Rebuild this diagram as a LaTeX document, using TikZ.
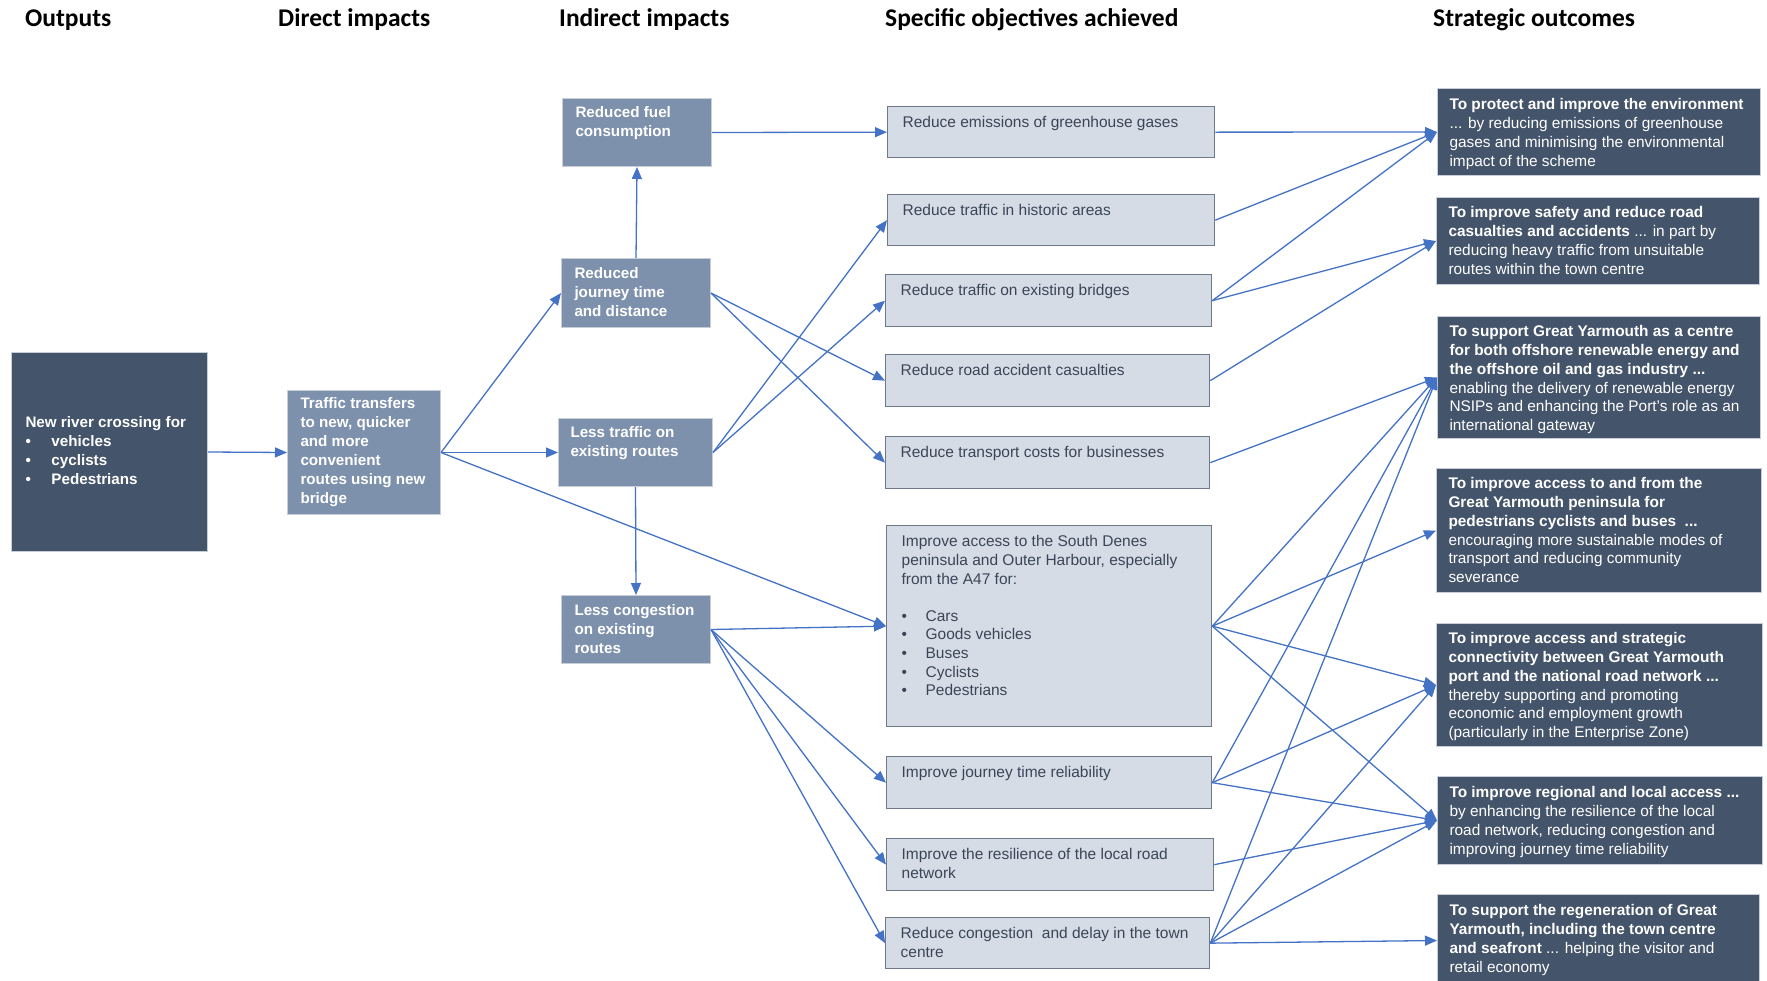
\documentclass[tikz,border=0pt]{standalone}
\usepackage{fontspec}
\setmainfont{Liberation Sans}
\newfontfamily\hdrfont{Carlito}
\usetikzlibrary{arrows.meta}
\definecolor{dfill}{HTML}{44546A}
\definecolor{mfill}{HTML}{7E91AC}
\definecolor{lfill}{HTML}{D6DCE5}
\definecolor{lborder}{HTML}{6E7888}
\definecolor{ltext}{HTML}{3A4658}
\definecolor{arrowc}{HTML}{4472C4}
\definecolor{softedge}{HTML}{C8CED8}
\newcommand{\myFL}{\fontsize{15.5}{18.6}\selectfont}
\newcommand{\myFB}{\fontsize{15.2}{19}\selectfont\bfseries}
\newcommand{\myFS}{\fontsize{15.4}{18.8}\selectfont}
\newcommand{\boxtxt}[6]{\parbox[c][#3pt][t]{#2pt}{#1\raggedright\leftskip=#4pt\relax\parindent=0pt\vspace*{#5pt}#6}}
\newcommand{\bul}[1]{\makebox[#1pt][l]{\textbullet}}
\begin{document}
\begin{tikzpicture}[x=1pt,y=-1pt,
  hdr/.style={font=\hdrfont\bfseries\fontsize{25.5}{30}\selectfont, anchor=base west, inner sep=0pt, text=black},
  lbox/.style={draw=lborder, fill=lfill, line width=1.3pt, inner sep=0pt, anchor=north west, text=ltext},
  mbox/.style={draw=softedge, fill=mfill, line width=1pt, inner sep=0pt, anchor=north west, text=white},
  dbox/.style={draw=softedge, fill=dfill, line width=1pt, inner sep=0pt, anchor=north west, text=white},
  arr/.style={draw=arrowc, line width=1.3pt, -{Triangle[length=12pt,width=10pt]}}]
\useasboundingbox (0,0) rectangle (1767,980);
\fill[white] (0,0) rectangle (1767,980);

% headers
\node[hdr] (h1) at (25,26) {Outputs};
\node[hdr] (h2) at (278,26) {Direct impacts};
\node[hdr] (h3) at (559,26) {Indirect impacts};
\node[hdr] (h4) at (885,26) {Specific objectives achieved};
\node[hdr] (h5) at (1433,26) {Strategic outcomes};

% outputs & direct
\node[dbox] (out) at (11,352) {\boxtxt{\myFB}{196}{199}{14}{64}{New river crossing for\\ \bul{26}vehicles\\ \bul{26}cyclists\\ \bul{26}Pedestrians}};
\node[mbox] (trf) at (287,390) {\boxtxt{\myFB}{153}{124}{13}{7}{Traffic transfers\\ to new, quicker\\ and more\\ convenient\\ routes using new\\ bridge}};

% indirect
\node[mbox] (fuel) at (562,98) {\boxtxt{\myFB}{149}{68}{13}{8}{Reduced fuel\\ consumption}};
\node[mbox] (jour) at (561,258) {\boxtxt{\myFB}{149}{69}{13}{9}{Reduced\\ journey time\\ and distance}};
\node[mbox] (less) at (558,418) {\boxtxt{\myFB}{154}{68}{12}{8}{Less traffic on\\ existing routes}};
\node[mbox] (cong) at (561,595) {\boxtxt{\myFB}{149}{68}{13}{9}{Less congestion\\ on existing\\ routes}};

% specific objectives
\node[lbox] (emi) at (887,106) {\boxtxt{\myFL}{327}{51}{15}{10}{Reduce emissions of greenhouse gases}};
\node[lbox] (hist) at (887,194) {\boxtxt{\myFL}{327}{51}{15}{10}{Reduce traffic in historic areas}};
\node[lbox] (brid) at (885,274) {\boxtxt{\myFL}{326}{52}{15}{10}{Reduce traffic on existing bridges}};
\node[lbox] (acc) at (885,354) {\boxtxt{\myFL}{324}{52}{15}{10}{Reduce road accident casualties}};
\node[lbox] (cost) at (885,436) {\boxtxt{\myFL}{324}{52}{15}{10}{Reduce transport costs for businesses}};
\node[lbox] (acs) at (886,525) {\boxtxt{\myFL}{325}{201}{15}{10}{Improve access to the South Denes\\ peninsula and Outer Harbour, especially\\ from the A47 for:\\[18.6pt]
 \bul{24}Cars\\ \bul{24}Goods vehicles\\ \bul{24}Buses\\ \bul{24}Cyclists\\ \bul{24}Pedestrians}};
\node[lbox] (rel) at (886,756) {\boxtxt{\myFL}{325}{52}{15}{10}{Improve journey time reliability}};
\node[lbox] (res) at (886,838) {\boxtxt{\myFL}{327}{52}{15}{10}{Improve the resilience of the local road\\ network}};
\node[lbox] (tcg) at (885,917) {\boxtxt{\myFL}{324}{51}{15}{10}{Reduce congestion \ and delay in the town\\ centre}};

% strategic outcomes
\node[dbox] (s1) at (1437,88) {\boxtxt{\myFS}{323}{87}{12}{10}{\textbf{To protect and improve the environment}\\ ... by reducing emissions of greenhouse\\ gases and minimising the environmental\\ impact of the scheme}};
\node[dbox] (s2) at (1436,197) {\boxtxt{\myFS}{323}{87}{12}{9}{\textbf{To improve safety and reduce road}\\ \textbf{casualties and accidents} ... in part by\\ reducing heavy traffic from unsuitable\\ routes within the town centre}};
\node[dbox] (s3) at (1437,316) {\boxtxt{\myFS}{323}{122}{12}{9}{\textbf{To support Great Yarmouth as a centre}\\ \textbf{for both offshore renewable energy and}\\ \textbf{the offshore oil and gas industry ...}\\ enabling the delivery of renewable energy\\ NSIPs and enhancing the Port's role as an\\ international gateway}};
\node[dbox] (s4) at (1436,468) {\boxtxt{\myFS}{325}{124}{12}{9}{\textbf{To improve access to and from the}\\ \textbf{Great Yarmouth peninsula for}\\ \textbf{pedestrians cyclists and buses \ ...}\\ encouraging more sustainable modes of\\ transport and reducing community\\ severance}};
\node[dbox] (s5) at (1436,623) {\boxtxt{\myFS}{326}{123}{12}{9}{\textbf{To improve access and strategic}\\ \textbf{connectivity between Great Yarmouth}\\ \textbf{port and the national road network ...}\\ thereby supporting and promoting\\ economic and employment growth\\ (particularly in the Enterprise Zone)}};
\node[dbox] (s6) at (1437,776) {\boxtxt{\myFS}{325}{88}{12}{10}{\textbf{To improve regional and local access ...}\\ by enhancing the resilience of the local\\ road network, reducing congestion and\\ improving journey time reliability}};
\node[dbox] (s7) at (1437,894) {\boxtxt{\myFS}{322}{92}{12}{10}{\textbf{To support the regeneration of Great}\\ \textbf{Yarmouth, including the town centre}\\ \textbf{and seafront} ... helping the visitor and\\ retail economy}};

% connectors left part
\draw[arr] (out.east) -- (trf.west);
\draw[arr] (trf.east) -- (jour.west);
\draw[arr] (trf.east) -- (less.west);
\draw[arr] (trf.east) -- (acs.west);
\draw[arr] (jour.north) -- (fuel.south);
\draw[arr] (fuel.east) -- (emi.west);
\draw[arr] (jour.east) -- (acc.west);
\draw[arr] (jour.east) -- (cost.west);
\draw[arr] (less.east) -- (hist.west);
\draw[arr] (less.east) -- (brid.west);
\draw[arr] (less.south) -- (cong.north);
\draw[arr] (cong.east) -- (acs.west);
\draw[arr] (cong.east) -- (rel.west);
\draw[arr] (cong.east) -- (res.west);
\draw[arr] (cong.east) -- (tcg.west);

% connectors right part
\draw[arr] (emi.east) -- (s1.west);
\draw[arr] (hist.east) -- (s1.west);
\draw[arr] (brid.east) -- (s1.west);
\draw[arr] (brid.east) -- (s2.west);
\draw[arr] (acc.east) -- (s2.west);
\draw[arr] (cost.east) -- (s3.west);
\draw[arr] (acs.east) -- (s3.west);
\draw[arr] (acs.east) -- (s4.west);
\draw[arr] (acs.east) -- (s5.west);
\draw[arr] (acs.east) -- (s6.west);
\draw[arr] (rel.east) -- (s3.west);
\draw[arr] (rel.east) -- (s5.west);
\draw[arr] (rel.east) -- (s6.west);
\draw[arr] (res.east) -- (s6.west);
\draw[arr] (tcg.east) -- (s3.west);
\draw[arr] (tcg.east) -- (s5.west);
\draw[arr] (tcg.east) -- (s6.west);
\draw[arr] (tcg.east) -- (s7.west);
\end{tikzpicture}
\end{document}
